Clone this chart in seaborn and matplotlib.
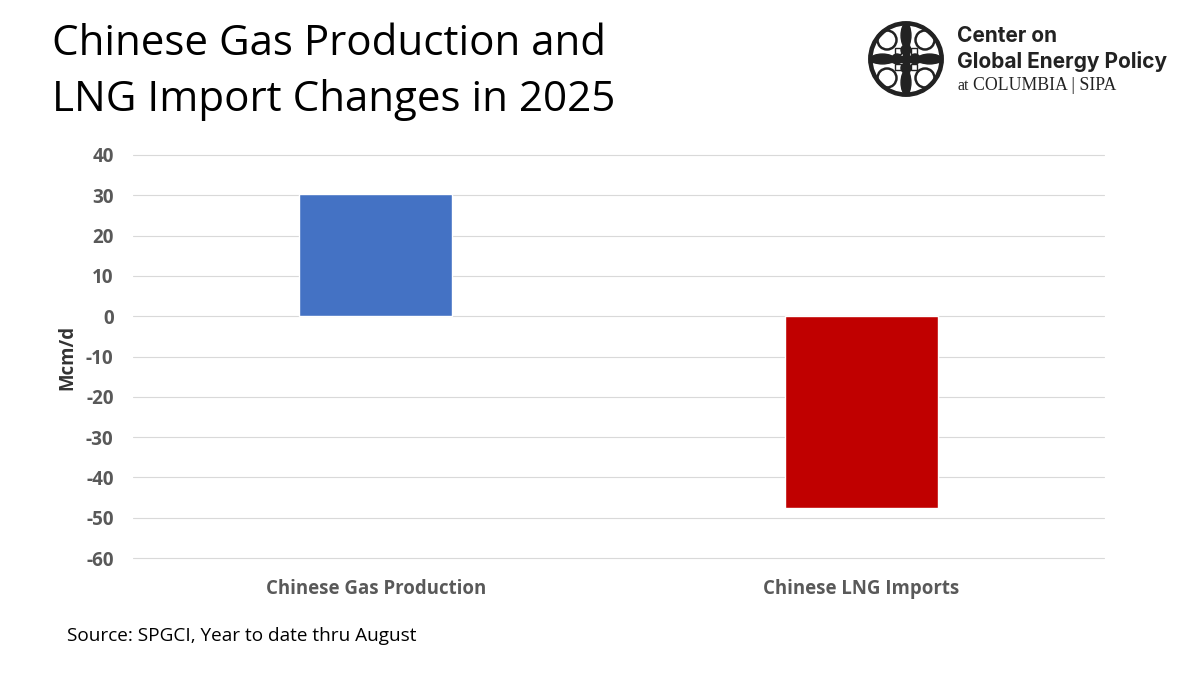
import matplotlib
matplotlib.use("Agg")
import matplotlib.pyplot as plt
import seaborn as sns
import pandas as pd
import numpy as np
from matplotlib.patches import Circle, Ellipse, Rectangle

categories = ["Chinese Gas Production", "Chinese LNG Imports"]
values = [30.3, -47.5]
colors = ["#4472C4", "#C00000"]
yticks = list(range(-60, 41, 10))
source = "Source: SPGCI, Year to date thru August"

sns.set_theme(style="white")
plt.rcParams['font.family'] = ['Open Sans', 'DejaVu Sans']

fig = plt.figure(figsize=(12, 6.75), dpi=100)
ax = fig.add_axes([133/1200, 1-558/675, (1104-133)/1200, (558-155)/675])
df = pd.DataFrame({"cat": categories, "val": values})
sns.barplot(data=df, x="cat", y="val", hue="cat", palette=colors, legend=False, width=0.315, ax=ax, saturation=1, zorder=3)
ax.set_xlim(-0.5, 1.5)
ax.set_ylim(-60, 40)
ax.set_yticks(yticks)
ax.set_yticklabels([str(t) for t in yticks], fontsize=13.6, fontweight="bold", color="#595959")
ax.set_xticks([0, 1])
ax.set_xticklabels(categories, fontsize=13.4, fontweight="bold", color="#595959")
ax.tick_params(axis="both", length=0)
ax.tick_params(axis="x", pad=15)
ax.tick_params(axis="y", pad=14)
ax.grid(axis="y", color="#D9D9D9", lw=0.8, zorder=0)
for gl in ax.get_ygridlines():
    gl.set_clip_on(False)
ax.set_axisbelow(True)
for s in ax.spines.values():
    s.set_visible(False)
ax.set_xlabel("")
ax.set_ylabel("")
fig.text(67/1200, 1-357/675, "Mcm/d", rotation=90, fontsize=13.4, fontweight="bold", color="#333333", ha="center", va="center")
fig.text(52/1200, 1-44/675, "Chinese Gas Production and", fontsize=30.3, color="black", ha="left", va="center")
fig.text(52/1200, 1-100/675, "LNG Import Changes in 2025", fontsize=30.3, color="black", ha="left", va="center")
fig.text(67/1200, 1-636/675, source, fontsize=13.7, color="black", ha="left", va="center")

# logo text
brand = ["Inter", "DejaVu Sans"]
fig.text(957/1200, 1-36/675, "Center on", fontsize=15, fontweight="bold", color="#222222", family=brand, va="center")
fig.text(957/1200, 1-61/675, "Global Energy Policy", fontsize=15.05, fontweight="bold", color="#222222", family=brand, va="center")
fig.text(957/1200, 1-86/675, "at", fontsize=11.5, color="#222222", family=["Liberation Serif"], va="center")
fig.text(973/1200, 1-86/675, "COLUMBIA | SIPA", fontsize=12.8, color="#222222", family=["Liberation Serif"], va="center")

# logo mark
ink = "#222222"
lax = fig.add_axes([868/1200, 1-97/675, 76/1200, 76/675])
lax.set_xlim(-1, 1); lax.set_ylim(-1, 1); lax.set_aspect("equal"); lax.axis("off")
lax.add_patch(Circle((0, 0), 0.98, color=ink))
lax.add_patch(Circle((0, 0), 0.86, color="white"))
for sx in (-1, 1):
    for sy in (-1, 1):
        lax.add_patch(Circle((sx*0.5, sy*0.5), 0.25, fill=False, ec=ink, lw=1.8))
        lax.add_patch(Rectangle((min(sx*0.12, sx*0.3), min(sy*0.12, sy*0.3)), 0.18, 0.18, fill=False, ec=ink, lw=1.0))
lax.add_patch(Rectangle((-0.9, -0.08), 1.8, 0.16, color=ink))
lax.add_patch(Rectangle((-0.08, -0.9), 0.16, 1.8, color=ink))
lax.add_patch(Ellipse((0, 0.62), 0.26, 0.62, color=ink))
lax.add_patch(Ellipse((0, -0.62), 0.26, 0.62, color=ink))
lax.add_patch(Ellipse((0.62, 0), 0.62, 0.26, color=ink))
lax.add_patch(Ellipse((-0.62, 0), 0.62, 0.26, color=ink))
for x, y in [(0.24, 0), (-0.24, 0), (0, 0.24), (0, -0.24)]:
    lax.add_patch(Circle((x, y), 0.13, color=ink))

fig.savefig("out.png", dpi=100)
